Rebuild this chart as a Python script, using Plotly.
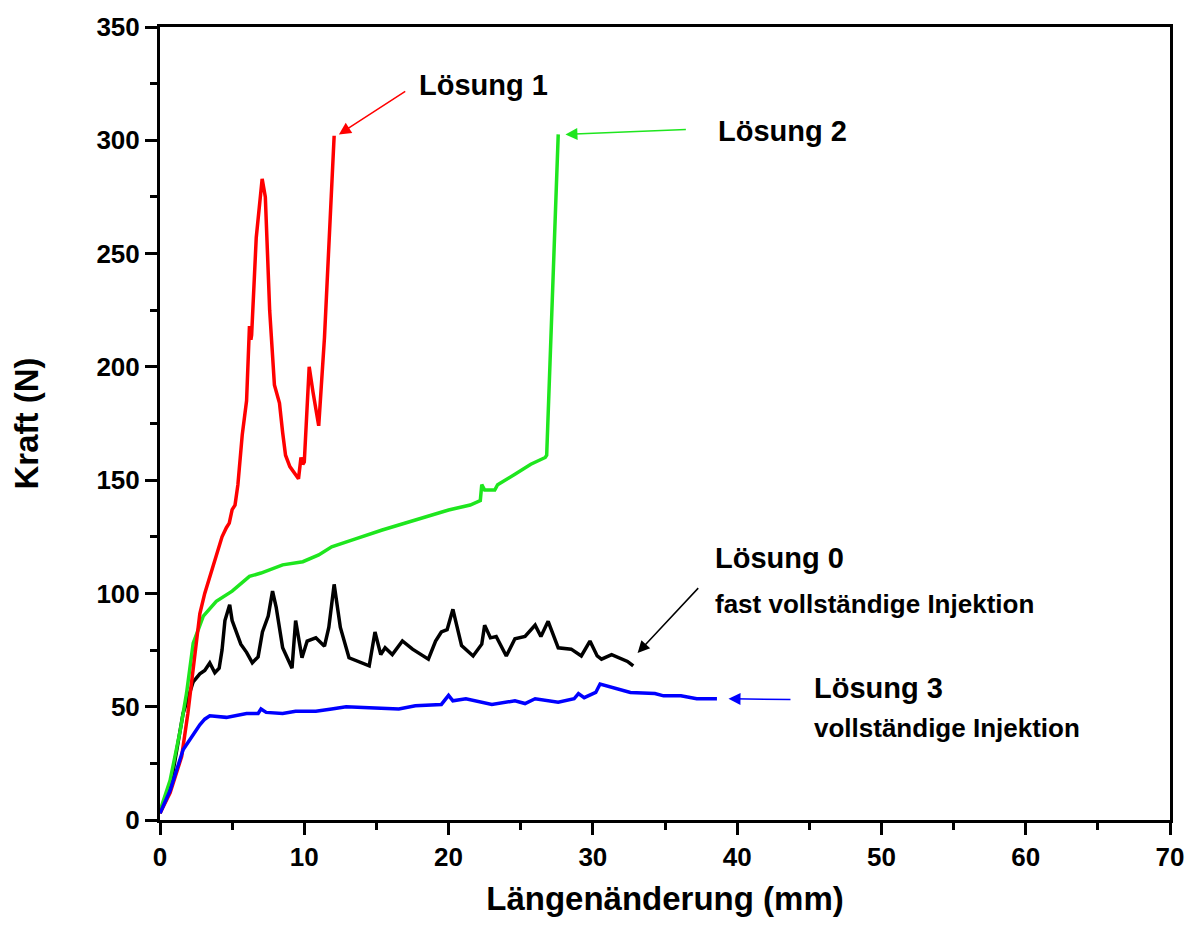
import plotly.graph_objects as go

# Lösung 1 (red)
x_l1 = [0, 0.7, 1.5, 1.93, 2.4, 2.76, 3.1, 3.5, 3.9, 4.3, 4.6, 4.8, 5.0, 5.2, 5.4, 5.7, 6.0, 6.2, 6.3, 6.35,
        6.67, 7.08, 7.3, 7.6, 7.93, 8.28, 8.5, 8.7, 9.0, 9.4, 9.6, 9.77, 9.9, 10.0, 10.34, 10.6, 11.0, 11.4, 12.07]
y_l1 = [3, 12, 28, 47, 72, 91, 100, 108, 116, 125, 129, 131, 137, 139, 148, 170, 185, 218, 212, 214,
        257, 283, 275, 225, 192, 184, 171, 161, 156, 152, 150.6, 160, 157, 158, 200, 189, 174, 213, 302]

# Lösung 2 (green)
x_l2 = [0, 0.7, 1.4, 1.84, 2.3, 3.0, 3.9, 5.0, 6.2, 7.0, 8.5, 9.9, 11.0, 11.9, 13.5, 15.4, 17.7, 20.0,
        21.5, 22.2, 22.3, 22.5, 23.2, 23.4, 24.6, 25.7, 26.7, 26.8, 27.6]
y_l2 = [4, 17.5, 39.5, 56, 78, 90, 96.5, 101, 107.5, 109, 112.6, 114, 117, 120.6, 124, 128, 132.4, 136.8,
        139, 141, 148, 145.6, 145.6, 148, 152.6, 157, 160, 161, 302.6]

# Lösung 0 (black)
x_l0 = [0, 0.7, 1.6, 1.84, 2.3, 2.76, 3.1, 3.45, 3.8, 4.1, 4.3, 4.5, 4.83, 5.0, 5.17, 5.6, 6.0, 6.4, 6.8,
        7.1, 7.5, 7.8, 8.05, 8.5, 9.15, 9.4, 9.84, 10.2, 10.8, 11.4, 11.7, 12.07, 12.5, 13.1, 14.5, 14.9,
        15.3, 15.6, 16.1, 16.8, 17.5, 18.6, 19.1, 19.5, 19.9, 20.3, 20.9, 21.7, 22.3, 22.5, 22.9, 23.3,
        24.0, 24.6, 25.3, 26.0, 26.4, 26.9, 27.6, 28.5, 29.2, 29.8, 30.3, 30.6, 31.3, 32.4, 32.8]
y_l0 = [3, 14, 47, 52, 61, 64.5, 66, 69.3, 65, 67, 75, 88, 95, 88, 85, 77.6, 74, 69.4, 72,
        83, 90, 101, 94, 76, 67, 88, 71.6, 79, 80.4, 76.7, 85, 104, 85, 71.6, 68, 83,
        73, 76, 73, 79, 75.4, 71, 79, 83, 84, 93, 77, 72.4, 77.6, 86, 80.4, 81,
        72.4, 80, 81, 86, 81, 87.7, 76, 75.4, 72.4, 79, 72.4, 71, 73, 70, 68]

# Lösung 3 (blue)
x_l3 = [0, 0.7, 1.6, 2.3, 2.76, 3.1, 3.45, 4.6, 6.0, 6.8, 7.0, 7.36, 8.5, 9.4, 10.8, 11.9, 12.9, 14.5, 16.55,
        17.7, 19.5, 20.0, 20.3, 21.2, 23.0, 24.6, 25.3, 26.0, 27.6, 28.7, 29.0, 29.4, 30.2, 30.5, 31.3,
        32.6, 34.3, 34.9, 36.1, 37.2, 38.6]
y_l3 = [3, 13, 31, 38, 42, 44.5, 46, 45.3, 47, 47, 49, 47.5, 47, 48, 48, 49, 50, 49.5, 49,
        50.4, 51, 55, 52.6, 53.5, 51, 52.6, 51.4, 53.5, 52, 53.5, 55.8, 54, 56.3, 60, 58.5,
        56.3, 55.8, 54.8, 54.8, 53.5, 53.5]

x_ticks = [0, 10, 20, 30, 40, 50, 60, 70]
y_ticks = [0, 50, 100, 150, 200, 250, 300, 350]

FONT = "Liberation Sans"

fig = go.Figure()
series = [
    (x_l0, y_l0, "#000000", "Lösung 0"),
    (x_l2, y_l2, "#1ee61e", "Lösung 2"),
    (x_l1, y_l1, "#ff0000", "Lösung 1"),
    (x_l3, y_l3, "#0000ff", "Lösung 3"),
]
for xs, ys, c, name in series:
    fig.add_trace(go.Scatter(x=xs, y=ys, mode="lines", name=name,
                             line=dict(color=c, width=3.5)))

axis_common = dict(
    showline=True, linecolor="black", linewidth=3, mirror=True,
    ticks="outside", ticklen=12, tickwidth=3, tickcolor="black",
    showgrid=False, zeroline=False,
    tickfont=dict(family=FONT, size=26, color="black", weight="bold"),
    minor=dict(ticks="outside", ticklen=7, tickwidth=3, tickcolor="black", showgrid=False),
)

fig.update_xaxes(range=[0, 70], tickvals=x_ticks, minor_dtick=5,
                 title=dict(text="Längenänderung (mm)", standoff=16,
                            font=dict(family=FONT, size=33, color="black", weight="bold")),
                 **axis_common)
fig.update_yaxes(range=[0, 350], tickvals=y_ticks, minor_dtick=25,
                 title=dict(text="Kraft (N)", standoff=48,
                            font=dict(family=FONT, size=33, color="black", weight="bold")),
                 **axis_common)

def arrow(hx, hy, tx, ty, color):
    fig.add_annotation(x=hx, y=hy, ax=tx, ay=ty, xref="x", yref="y", axref="x", ayref="y",
                       text="", showarrow=True, arrowhead=2, arrowsize=1.6, arrowwidth=1.5,
                       arrowcolor=color)

arrow(12.4, 302.6, 17.1, 322, "#ff0000")
arrow(28.1, 302.6, 36.55, 304.8, "#1ee61e")
arrow(33.1, 73.7, 37.4, 103, "#000000")
arrow(39.4, 53.5, 43.8, 53.2, "#0000ff")

def label(x, y, text, size):
    fig.add_annotation(x=x, y=y, xref="x", yref="y", text=text, showarrow=False,
                       xanchor="left", yanchor="middle",
                       font=dict(family=FONT, size=size, color="black", weight="bold"))

label(17.8, 324.6, "Lösung 1", 29)
label(38.5, 304, "Lösung 2", 29)
label(38.3, 115.8, "Lösung 0", 29)
label(38.3, 95.2, "fast vollständige Injektion", 26)
label(45.2, 58.3, "Lösung 3", 29)
label(45.2, 40.8, "vollständige Injektion", 26)

fig.update_layout(
    width=1196, height=927,
    margin=dict(l=160, r=21, t=22, b=107),
    paper_bgcolor="white", plot_bgcolor="white",
    showlegend=False,
)

fig.write_html("out.html")
